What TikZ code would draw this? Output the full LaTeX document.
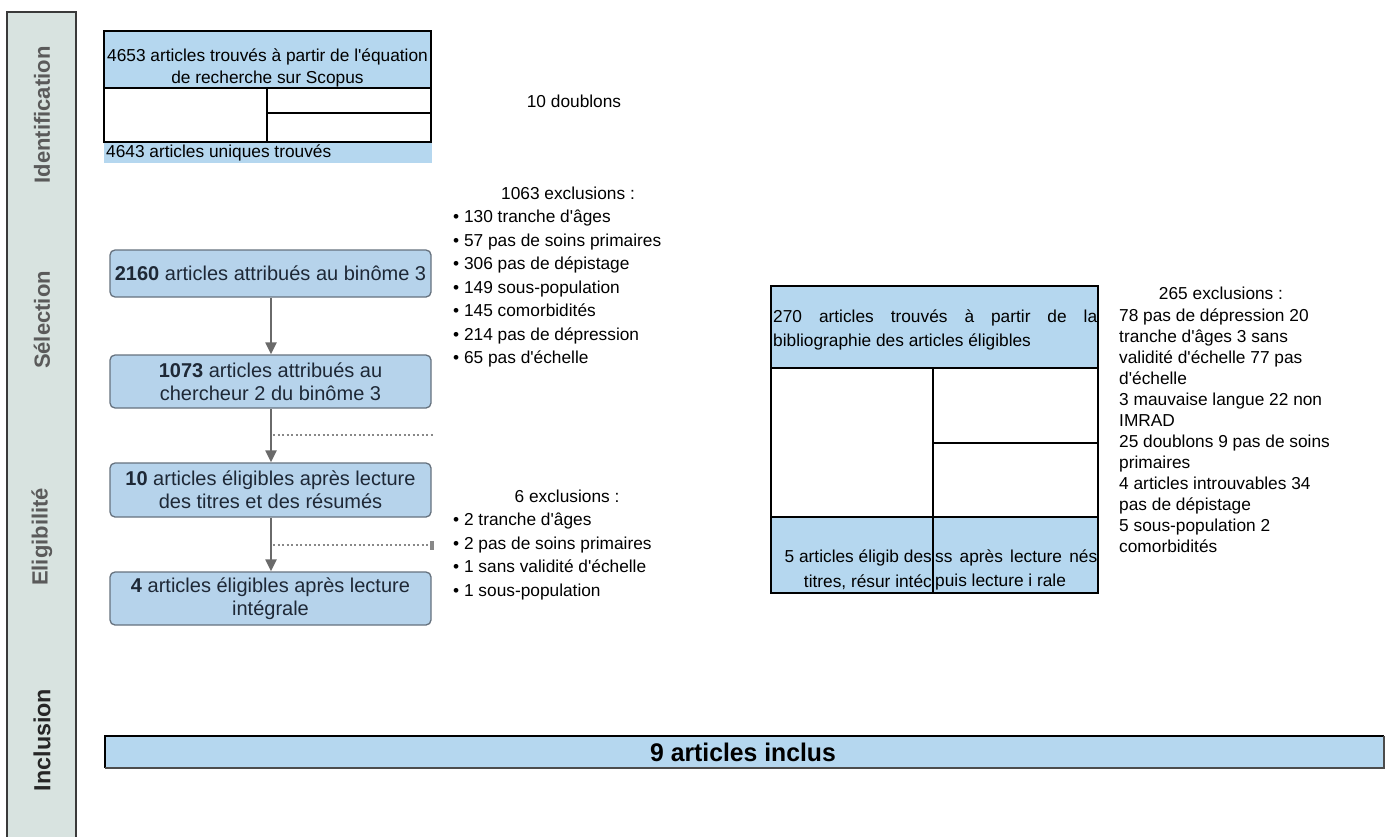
\documentclass[tikz,border=0pt]{standalone}
\usepackage{fontspec}
\setmainfont{Liberation Sans}[Ligatures=TeXReset]
\newfontfamily\narrowfont[FakeStretch=0.97,Ligatures=TeXReset]{Liberation Sans}
\usetikzlibrary{arrows.meta}
\definecolor{sidefill}{HTML}{D8E3E0}
\definecolor{sideline}{HTML}{3A3A3A}
\definecolor{sidetext}{HTML}{5A5A5A}
\definecolor{hdrblue}{HTML}{B5D7EF}
\definecolor{flowblue}{HTML}{B6D3EB}
\definecolor{flowline}{HTML}{66727E}
\definecolor{flowtext}{HTML}{1E2836}
\definecolor{arrowgrey}{HTML}{6A6A6A}
\tikzset{
  sidelabel/.style={font=\bfseries\fontsize{22}{22}\selectfont, text=sidetext, rotate=90, inner sep=0pt},
  tabline/.style={draw=black, line width=1.8pt},
  txt/.style={font=\fontsize{17.3}{21}\selectfont, inner sep=0pt, text=black},
  listtxt/.style={font=\fontsize{17.3}{23.5}\selectfont, inner sep=0pt, align=left, anchor=north west, text=black},
  rlisttxt/.style={font=\fontsize{17.3}{21}\selectfont, inner sep=0pt, align=left, anchor=north west, text=black},
  flowbox/.style={draw=flowline, fill=flowblue, line width=1.3pt, rounded corners=5pt, minimum width=321pt, align=center, text=flowtext, font=\fontsize{20}{23}\selectfont, inner sep=0pt},
  flowarrow/.style={draw=arrowgrey, line width=2.2pt, -{Triangle[length=12pt,width=11pt]}},
  dotline/.style={draw=arrowgrey!80, line width=2pt, dash pattern=on 2pt off 2.5pt},
}
\begin{document}
\begin{tikzpicture}[x=1pt,y=-1pt]
\useasboundingbox (0,0) rectangle (1388,837);
% sidebar
\fill[sidefill] (7,12) rectangle (76,840);
\draw[sideline, line width=1.6pt] (7,840) -- (7,12) -- (76,12) -- (76,840);
\node[sidelabel] (lid) at (42,115) {Identification};
\node[sidelabel] (lsel) at (42,320) {Sélection};
\node[sidelabel] (lelig) at (42,537) {Eligibilité};
\node[sidelabel, font=\bfseries\fontsize{23.3}{23.3}\selectfont, text=black!85] (lincl) at (42,740) {Inclusion};

% top-left table
\fill[hdrblue] (104,31) rectangle (431,88);
\fill[hdrblue] (104,143) rectangle (432,163);
\draw[tabline] (104,143) -- (104,31) -- (431,31) -- (431,143);
\draw[tabline] (104,88) -- (431,88);
\draw[tabline] (267,88) -- (267,143);
\draw[tabline] (267,113) -- (431,113);
\draw[tabline] (104,142) -- (431,142);
\node[txt, align=center, font=\fontsize{17.3}{22}\selectfont] (scopus) at (267.5,68) {4653 articles trouvés à partir de l'équation\\de recherche sur Scopus};
\node[txt, anchor=west] (uniq) at (106,153) {4643 articles uniques trouvés};
\node[txt] (doub) at (574,101) {10 doublons};

% flow boxes
\node[flowbox, minimum height=47pt] (b1) at (270.5,273.5) {{\bfseries 2160} articles attribués au binôme 3};
\node[flowbox, minimum height=53pt] (b2) at (270.5,381.5) {{\bfseries 1073} articles attribués au\\chercheur 2 du binôme 3};
\node[flowbox, minimum height=54pt] (b3) at (270.5,490) {{\bfseries 10} articles éligibles après lecture\\des titres et des résumés};
\node[flowbox, minimum height=53pt] (b4) at (270.5,598.5) {{\bfseries 4} articles éligibles après lecture\\intégrale};
\draw[flowarrow] (b1.south -| 271,0) -- (b2.north -| 271,0);
\draw[flowarrow] (b2.south -| 271,0) -- (b3.north -| 271,0);
\draw[flowarrow] (b3.south -| 271,0) -- (b4.north -| 271,0);
\coordinate (d1s) at (273,435);
\coordinate (d1e) at (433,435);
\coordinate (d2s) at (273,545);
\coordinate (d2e) at (434,545);
\draw[dotline] (d1s) -- (d1e);
\draw[dotline, -{Rectangle[length=4pt,width=9pt,fill=arrowgrey]}] (d2s) -- (d2e);

% exclusions 1
\node[txt] (ex1h) at (568,193) {1063 exclusions :};
\node[listtxt] (ex1) at (453,210) {• 130 tranche d'âges\\• 57 pas de soins primaires\\• 306 pas de dépistage\\• 149 sous-population\\• 145 comorbidités\\• 214 pas de dépression\\• 65 pas d'échelle};
% exclusions 2
\node[txt] (ex2h) at (567,496) {6 exclusions :};
\node[listtxt] (ex2) at (453,513) {• 2 tranche d'âges\\• 2 pas de soins primaires\\• 1 sans validité d'échelle\\• 1 sous-population};

% right table
\fill[hdrblue] (771,286) rectangle (1098,368);
\fill[hdrblue] (771,517) rectangle (1098,593);
\draw[tabline] (771,286) rectangle (1098,593);
\draw[tabline] (771,368) -- (1098,368);
\draw[tabline] (933,368) -- (933,593);
\draw[tabline] (933,443) -- (1098,443);
\draw[tabline] (771,517) -- (1098,517);
\node[txt, anchor=west] (bib1) at (773,318) {\makebox[324pt][s]{270 articles trouvés à partir de la}};
\node[txt, anchor=west] (bib2) at (773,342) {bibliographie des articles éligibles};
\node[txt, anchor=east] (c1a) at (932,558) {5 articles éligib des};
\node[txt, anchor=east] (c1b) at (932,582) {titres, résur intéc};
\node[txt, anchor=west] (c2a) at (935,558) {\makebox[162pt][s]{ss après lecture nés}};
\node[txt, anchor=west] (c2b) at (935,582) {puis lecture i rale};

% exclusions 3
\node[txt] (ex3h) at (1221,293) {265 exclusions :};
\node[rlisttxt] (ex3) at (1119,309) {78 pas de dépression 20\\tranche d'âges 3 sans\\validité d'échelle 77 pas\\d'échelle\\3 mauvaise langue 22 non\\IMRAD\\25 doublons 9 pas de soins\\primaires\\4 articles introuvables 34\\pas de dépistage\\5 sous-population 2\\comorbidités};

% inclusion bar
\fill[hdrblue] (105,736) rectangle (1384,768);
\draw[black, line width=2pt] (105,768) -- (105,736) -- (1384,736);
\draw[black!70, line width=1.2pt] (105,768) -- (1384,768) -- (1384,736);
\node[font=\narrowfont\bfseries\fontsize{25.5}{25.5}\selectfont, inner sep=0pt] (incl) at (743,752) {9 articles inclus};
\end{tikzpicture}
\end{document}
